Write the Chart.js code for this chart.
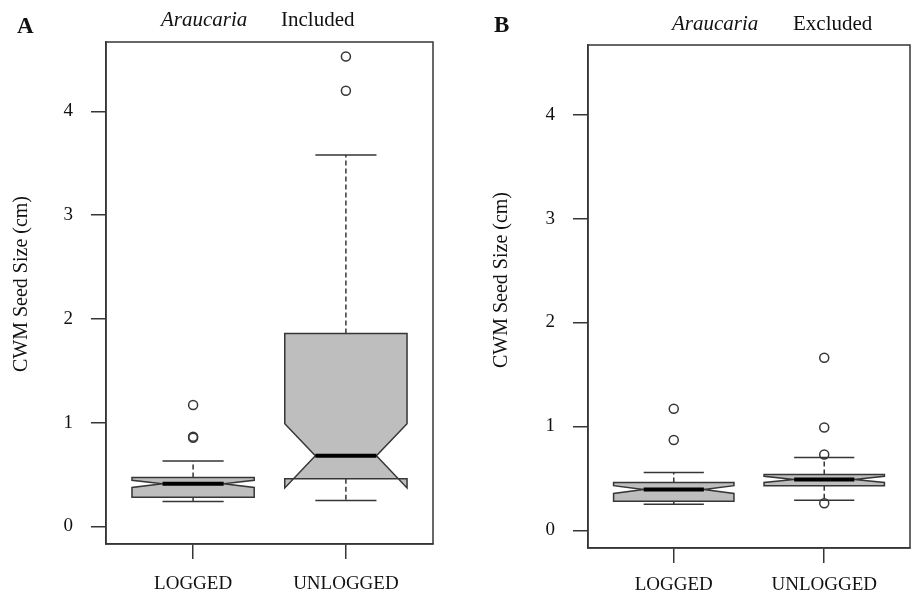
<!DOCTYPE html>
<html>
<head>
<meta charset="utf-8">
<script src="https://cdn.jsdelivr.net/npm/chart.js@4.4.1/dist/chart.umd.min.js"></script>
<style>
  body { margin: 0; background: #fff; }
  #wrap { position: relative; width: 916px; height: 594px; }
  canvas { position: absolute; top: 0; }
</style>
</head>
<body>
<div id="wrap">
  <canvas id="panelA" width="458" height="594" style="left:0"></canvas>
  <canvas id="panelB" width="458" height="594" style="left:458px"></canvas>
</div>
<script>
const groups = ["LOGGED", "UNLOGGED"];
const yTicks = [0, 1, 2, 3, 4];

// A: Araucaria included
const whiskerLowA = [0.24, 0.25];
const q1A = [0.28, 0.46];
const notchLowA = [0.375, 0.37];
const medianA = [0.41, 0.68];
const notchHighA = [0.445, 0.99];
const q3A = [0.47, 1.86];
const whiskerHighA = [0.63, 3.58];
const outliersLoggedA = [1.17, 0.865, 0.855];
const outliersUnloggedA = [4.53, 4.20];

// B: Araucaria excluded
const whiskerLowB = [0.25, 0.29];
const q1B = [0.28, 0.43];
const notchLowB = [0.355, 0.46];
const medianB = [0.393, 0.49];
const notchHighB = [0.43, 0.52];
const q3B = [0.46, 0.537];
const whiskerHighB = [0.556, 0.70];
const outliersLoggedB = [1.17, 0.87];
const outliersUnloggedB = [1.66, 0.99, 0.73, 0.26];

const SERIF = "'Liberation Serif', 'DejaVu Serif', serif";
const INK = "#363636";
const BOX_HALF = 0.40;   // in x units
const NOTCH_FRAC = 0.5;
const CAP_HALF = 0.20;

const notchBoxes = {
  id: "notchBoxes",
  beforeDatasetsDraw(chart, args, opts) {
    const { ctx, scales: { x, y } } = chart;
    const s = opts.stats;
    const px = (v) => x.getPixelForValue(v);
    const py = (v) => y.getPixelForValue(v);
    ctx.save();
    s.median.forEach((med, i) => {
      const c = i + 1;
      const xc = px(c);
      const xl = px(c - BOX_HALF), xr = px(c + BOX_HALF);
      const nl = px(c - BOX_HALF * NOTCH_FRAC), nr = px(c + BOX_HALF * NOTCH_FRAC);

      // whiskers
      ctx.strokeStyle = INK;
      ctx.lineWidth = 1.5;
      ctx.setLineDash([5, 3]);
      ctx.beginPath();
      ctx.moveTo(xc, py(s.q3[i])); ctx.lineTo(xc, py(s.whiskerHigh[i]));
      ctx.moveTo(xc, py(s.q1[i])); ctx.lineTo(xc, py(s.whiskerLow[i]));
      ctx.stroke();
      ctx.setLineDash([]);
      ctx.beginPath();
      ctx.moveTo(px(c - CAP_HALF), py(s.whiskerHigh[i])); ctx.lineTo(px(c + CAP_HALF), py(s.whiskerHigh[i]));
      ctx.moveTo(px(c - CAP_HALF), py(s.whiskerLow[i])); ctx.lineTo(px(c + CAP_HALF), py(s.whiskerLow[i]));
      ctx.stroke();

      // notched box (R bxp polygon order)
      ctx.beginPath();
      ctx.moveTo(xl, py(s.q1[i]));
      ctx.lineTo(xr, py(s.q1[i]));
      ctx.lineTo(xr, py(s.notchLow[i]));
      ctx.lineTo(nr, py(med));
      ctx.lineTo(xr, py(s.notchHigh[i]));
      ctx.lineTo(xr, py(s.q3[i]));
      ctx.lineTo(xl, py(s.q3[i]));
      ctx.lineTo(xl, py(s.notchHigh[i]));
      ctx.lineTo(nl, py(med));
      ctx.lineTo(xl, py(s.notchLow[i]));
      ctx.closePath();
      ctx.fillStyle = "#bebebe";
      ctx.fill();
      ctx.lineWidth = 1.5;
      ctx.strokeStyle = INK;
      ctx.stroke();

      // median
      ctx.beginPath();
      ctx.lineWidth = 4;
      ctx.strokeStyle = "#000";
      ctx.moveTo(nl, py(med)); ctx.lineTo(nr, py(med));
      ctx.stroke();
    });
    ctx.restore();
  },
  afterDraw(chart, args, opts) {
    const { ctx, chartArea: a } = chart;
    ctx.save();
    ctx.strokeStyle = INK;
    ctx.lineWidth = 1.5;
    ctx.strokeRect(a.left, a.top, a.right - a.left, a.bottom - a.top);

    ctx.fillStyle = "#111";
    ctx.textBaseline = "alphabetic";
    ctx.textAlign = "left";
    ctx.font = "bold 23px " + SERIF;
    ctx.fillText(opts.letter[0], opts.letter[1], opts.letter[2]);
    ctx.font = "italic 21px " + SERIF;
    ctx.fillText("Araucaria", opts.genus[0], opts.genus[1]);
    ctx.font = "21px " + SERIF;
    ctx.fillText(opts.state[0], opts.state[1], opts.state[2]);

    ctx.translate(opts.yTitle[0], opts.yTitle[1]);
    ctx.rotate(-Math.PI / 2);
    ctx.textAlign = "center";
    ctx.textBaseline = "middle";
    ctx.font = "20px " + SERIF;
    ctx.fillText("CWM Seed Size (cm)", 0, 0);
    ctx.restore();
  }
};

function outlierPoints(logged, unlogged) {
  return logged.map(v => ({ x: 1, y: v })).concat(unlogged.map(v => ({ x: 2, y: v })));
}

function makePanel(id, stats, outliers, lay, deco) {
  return new Chart(document.getElementById(id), {
    type: "scatter",
    data: {
      datasets: [{
        data: outliers,
        pointRadius: 4.5,
        pointBorderWidth: 1.5,
        borderColor: INK,
        backgroundColor: "rgba(0,0,0,0)"
      }]
    },
    plugins: [notchBoxes],
    options: {
      responsive: false,
      animation: false,
      layout: { padding: { left: 0, top: lay.top, right: lay.right, bottom: 0 } },
      plugins: {
        legend: { display: false },
        tooltip: { enabled: false },
        notchBoxes: Object.assign({ stats: stats }, deco)
      },
      scales: {
        x: {
          type: "linear",
          min: 0.43,
          max: 2.57,
          afterBuildTicks: (s) => { s.ticks = groups.map((g, i) => ({ value: i + 1 })); },
          afterFit: (s) => { s.height = lay.xHeight; },
          ticks: {
            callback: (v) => groups[v - 1],
            font: { family: SERIF, size: 19 },
            color: "#111",
            padding: lay.xPad,
            maxRotation: 0
          },
          grid: { drawOnChartArea: false, tickLength: 15, color: INK, lineWidth: 1.5 },
          border: { display: true, color: INK, width: 1.5 }
        },
        y: {
          min: -0.17,
          max: 4.67,
          afterBuildTicks: (s) => { s.ticks = yTicks.map(v => ({ value: v })); },
          afterFit: (s) => { s.width = lay.yWidth; },
          ticks: {
            font: { family: SERIF, size: 19 },
            color: "#111",
            padding: 18
          },
          grid: { drawOnChartArea: false, tickLength: 15, color: INK, lineWidth: 1.5 },
          border: { display: true, color: INK, width: 1.5 }
        }
      }
    }
  });
}

makePanel("panelA",
  { whiskerLow: whiskerLowA, q1: q1A, notchLow: notchLowA, median: medianA,
    notchHigh: notchHighA, q3: q3A, whiskerHigh: whiskerHighA },
  outlierPoints(outliersLoggedA, outliersUnloggedA),
  { top: 42, right: 25, yWidth: 106, xHeight: 50, xPad: 14 },
  { letter: ["A", 17, 33], genus: [161, 26], state: ["Included", 281, 26], yTitle: [22, 284] });

makePanel("panelB",
  { whiskerLow: whiskerLowB, q1: q1B, notchLow: notchLowB, median: medianB,
    notchHigh: notchHighB, q3: q3B, whiskerHigh: whiskerHighB },
  outlierPoints(outliersLoggedB, outliersUnloggedB),
  { top: 45, right: -1, yWidth: 130, xHeight: 46, xPad: 11 },
  { letter: ["B", 36, 32], genus: [214, 30], state: ["Excluded", 335, 30], yTitle: [44, 280] });
</script>
</body>
</html>
